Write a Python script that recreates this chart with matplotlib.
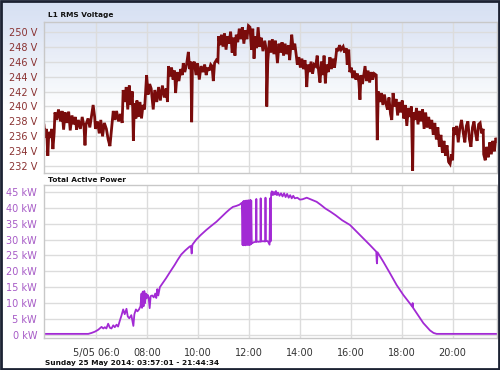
import numpy as np
import matplotlib
matplotlib.use("Agg")
import matplotlib.pyplot as plt
from matplotlib.patches import Rectangle
from matplotlib.colors import LinearSegmentedColormap

# time axis is in hours of the day (25 May 2014)
t_start = 3.950   # 03:57:01
t_end = 21.743    # 21:44:34

# L1 RMS voltage
volt_hours = [
    3.95, 4.00, 4.05, 4.10, 4.14, 4.20, 4.25, 4.30, 4.35, 4.38, 4.45, 4.52, 4.60, 4.66,
    4.72, 4.78, 4.85, 4.92, 4.98, 5.05, 5.12, 5.18, 5.23, 5.30, 5.38, 5.45, 5.52, 5.56,
    5.60, 5.68, 5.75, 5.82, 5.88, 5.94, 5.97, 6.05, 6.12, 6.18, 6.25, 6.32, 6.40, 6.47,
    6.54, 6.60, 6.67, 6.74, 6.80, 6.88, 6.95, 7.02, 7.06, 7.12, 7.18, 7.24, 7.30, 7.36,
    7.42, 7.46, 7.50, 7.56, 7.60, 7.66, 7.72, 7.78, 7.84, 7.90, 7.98, 8.04, 8.10, 8.16,
    8.24, 8.30, 8.38, 8.45, 8.52, 8.60, 8.68, 8.75, 8.80, 8.84, 8.90, 8.96, 9.02, 9.08,
    9.12, 9.18, 9.25, 9.32, 9.38, 9.42, 9.48, 9.55, 9.62, 9.67, 9.72, 9.75, 9.78, 9.85,
    9.92, 9.98, 10.05, 10.12, 10.20, 10.26, 10.32, 10.38, 10.44, 10.50, 10.55, 10.60,
    10.65, 10.72, 10.78, 10.81, 10.86, 10.92, 10.98, 11.04, 11.10, 11.16, 11.22, 11.28,
    11.34, 11.40, 11.45, 11.50, 11.56, 11.62, 11.68, 11.74, 11.80, 11.86, 11.92, 11.98,
    12.04, 12.10, 12.15, 12.20, 12.25, 12.30, 12.36, 12.42, 12.48, 12.55, 12.62, 12.68,
    12.70, 12.74, 12.80, 12.86, 12.92, 12.98, 13.04, 13.12, 13.18, 13.24, 13.30, 13.36,
    13.42, 13.48, 13.55, 13.60, 13.68, 13.74, 13.80, 13.86, 13.90, 13.96, 14.02, 14.08,
    14.14, 14.20, 14.24, 14.27, 14.32, 14.38, 14.44, 14.50, 14.56, 14.62, 14.68, 14.74,
    14.79, 14.85, 14.91, 14.95, 15.00, 15.05, 15.12, 15.18, 15.24, 15.30, 15.36, 15.40,
    15.45, 15.50, 15.56, 15.62, 15.70, 15.76, 15.82, 15.86, 15.92, 15.96, 16.02, 16.08,
    16.14, 16.20, 16.26, 16.32, 16.36, 16.40, 16.46, 16.56, 16.62, 16.68, 16.74, 16.80,
    16.86, 16.92, 17.00, 17.04, 17.08, 17.14, 17.20, 17.26, 17.32, 17.38, 17.44, 17.50,
    17.56, 17.61, 17.66, 17.72, 17.78, 17.84, 17.90, 17.96, 18.02, 18.08, 18.14, 18.20,
    18.26, 18.32, 18.38, 18.43, 18.46, 18.52, 18.58, 18.64, 18.70, 18.76, 18.82, 18.88,
    18.94, 19.00, 19.06, 19.12, 19.18, 19.24, 19.30, 19.36, 19.42, 19.48, 19.54, 19.60,
    19.66, 19.72, 19.78, 19.84, 19.90, 19.96, 20.00, 20.04, 20.10, 20.16, 20.22, 20.28,
    20.35, 20.42, 20.48, 20.54, 20.60, 20.66, 20.72, 20.78, 20.84, 20.90, 20.96, 21.02,
    21.08, 21.14, 21.20, 21.22, 21.28, 21.34, 21.40, 21.46, 21.52, 21.58, 21.64, 21.70,
    21.74,
]
volt_values = [
    237.5, 235.8, 237.0, 233.4, 236.6, 235.8, 237.0, 234.3, 236.5, 239.2, 238.2, 239.6, 238.0, 239.4,
    236.9, 239.2, 237.8, 239.3, 236.8, 238.8, 237.6, 238.6, 236.9, 238.2, 237.0, 238.6, 237.4, 234.8,
    237.6, 238.4, 237.2, 238.8, 240.2, 238.6, 237.0, 238.0, 236.4, 238.2, 236.0, 237.8, 237.0, 235.6,
    234.7, 236.8, 239.4, 238.2, 239.4, 238.0, 239.0, 237.8, 242.2, 240.6, 242.6, 239.6, 242.8, 240.2,
    242.0, 235.4, 240.4, 238.4, 240.8, 238.6, 240.6, 238.4, 240.2, 239.6, 244.2, 241.6, 243.0, 242.4,
    239.6, 242.2, 240.6, 242.6, 240.8, 242.8, 241.2, 242.4, 240.6, 245.4, 244.0, 245.2, 243.6, 244.8,
    241.8, 244.6, 243.4, 245.0, 244.2, 245.8, 244.6, 245.6, 247.3, 245.0, 246.0, 237.9, 245.2, 246.0,
    244.2, 245.8, 243.6, 245.4, 244.6, 245.6, 244.2, 245.2, 244.8, 245.6, 245.4, 243.4,
    245.8, 246.2, 246.0, 249.4, 248.2, 249.6, 248.0, 249.8, 247.6, 249.4, 248.4, 250.0,
    247.2, 249.2, 246.8, 249.6, 248.6, 250.4, 249.0, 250.6, 248.4, 250.2, 249.0, 250.8,
    250.6, 247.6, 250.4, 246.4, 249.4, 247.8, 250.6, 248.0, 249.2, 247.4, 248.8, 247.6,
    240.0, 246.0, 248.8, 247.2, 249.0, 247.0, 248.8, 245.8, 248.4, 247.2, 248.6, 246.8,
    248.4, 247.0, 248.2, 246.2, 249.6, 247.6, 248.4, 246.8, 245.6, 246.6, 245.2, 246.4,
    245.0, 246.2, 244.8, 242.6, 245.6, 244.6, 246.0, 244.4, 245.6, 245.4, 246.8, 244.6,
    243.2, 246.0, 244.2, 246.8, 243.1, 245.6, 244.6, 246.6, 245.0, 246.4, 245.2, 246.2,
    247.8, 247.4, 248.2, 247.6, 248.0, 247.2, 247.8, 245.6, 247.6, 244.6, 245.2, 243.8,
    244.8, 243.6, 244.4, 243.2, 240.9, 244.2, 243.0, 245.4, 243.4, 244.8, 243.2, 244.6,
    243.6, 244.4, 244.2, 235.5, 242.0, 240.6, 241.8, 240.2, 241.6, 240.4, 239.6, 241.2,
    239.0, 238.2, 241.8, 240.0, 241.0, 238.8, 240.6, 239.2, 240.8, 238.4, 240.2, 237.4,
    239.8, 238.6, 240.0, 231.4, 239.2, 238.2, 239.8, 237.6, 239.4, 238.0, 239.6, 237.0,
    239.2, 237.2, 238.6, 237.0, 238.2, 236.2, 237.8, 235.6, 237.2, 234.6, 236.2, 233.8,
    235.4, 233.4, 234.8, 232.6, 232.3, 233.6, 232.8, 237.2, 236.2, 237.4, 235.2, 237.0,
    238.2, 236.4, 235.2, 237.4, 238.0, 235.6, 234.6, 237.2, 238.0, 236.4, 235.4, 237.6,
    237.8, 236.4, 237.0, 233.6, 232.8, 234.6, 233.2, 235.2, 233.6, 235.4, 234.0, 235.8,
    235.4,
]

# total active power (kW)
power_hours = [
    3.95, 5.69, 5.82, 5.95, 6.08, 6.21, 6.28, 6.34, 6.40, 6.47, 6.54, 6.60, 6.67, 6.73,
    6.80, 6.86, 6.93, 6.99, 7.06, 7.12, 7.19, 7.24, 7.30, 7.38, 7.46, 7.50, 7.56, 7.62,
    7.68, 7.74, 7.78, 7.80, 7.83, 7.86, 7.89, 7.92, 7.95, 7.98, 8.02, 8.06, 8.10, 8.14,
    8.20, 8.26, 8.32, 8.36, 8.40, 8.44, 8.50, 8.56, 8.65, 8.75, 8.90, 9.08, 9.20, 9.34,
    9.50, 9.67, 9.72, 9.75, 9.78, 9.93, 10.10, 10.32, 10.50, 10.72, 10.90, 11.11, 11.25,
    11.37, 11.50, 11.63, 11.72,
    11.75, 11.77, 11.79, 11.81, 11.83, 11.85, 11.87, 11.89, 11.91, 11.93, 11.95, 11.97,
    11.99, 12.01, 12.03, 12.05, 12.07, 12.09, 12.11,
    12.15, 12.20, 12.28, 12.29, 12.30, 12.37, 12.45, 12.46, 12.47, 12.55, 12.64, 12.65,
    12.66, 12.74, 12.81, 12.83, 12.84, 12.86,
    12.87, 12.90, 12.94, 12.98, 13.02, 13.06, 13.10, 13.14, 13.20, 13.26, 13.32, 13.38,
    13.44, 13.50, 13.56, 13.62, 13.68, 13.74, 13.80, 13.90, 14.00, 14.10, 14.27, 14.45,
    14.66, 14.83, 15.00, 15.20, 15.40, 15.66, 15.97, 16.23, 16.49, 16.75, 17.00, 17.02,
    17.03, 17.05, 17.28, 17.54, 17.80, 18.06, 18.32, 18.42, 18.43, 18.44, 18.59, 18.85,
    19.11, 19.25, 19.37, 21.74,
]
power_kw = [
    0.3, 0.3, 0.6, 1.0, 1.6, 2.5, 2.0, 2.4, 2.0, 3.5, 2.2, 2.0, 3.0, 2.4,
    3.2, 2.6, 4.5, 6.0, 8.0, 6.5, 8.2, 5.8, 5.2, 6.2, 2.8, 6.5, 8.0, 7.4,
    8.0, 9.0, 13.0, 8.5, 13.6, 9.0, 13.8, 10.0, 13.0, 11.5, 12.6, 11.8, 8.4, 12.2,
    12.4, 11.8, 13.0, 11.6, 14.4, 12.4, 15.0, 15.7, 16.8, 17.9, 19.8, 22.0, 23.6, 25.3,
    26.6, 27.8, 28.0, 25.6, 28.4, 30.0, 31.4, 33.0, 34.2, 35.6, 37.0, 38.6, 39.6,
    40.3, 40.6, 41.0, 41.6,
    28.3, 42.0, 28.2, 42.2, 28.4, 41.8, 28.2, 42.3, 28.5, 42.0, 28.3, 42.4,
    28.4, 42.2, 28.3, 42.5, 28.5, 42.3, 28.8,
    29.0, 29.2, 29.3, 42.8, 29.4, 29.3, 29.4, 43.0, 29.4, 29.5, 29.4, 43.2,
    29.6, 29.5, 28.4, 43.0, 29.4, 29.6,
    44.6, 45.2, 44.0, 45.0, 44.2, 45.3, 44.0, 44.8, 43.8, 44.6, 43.6, 44.6,
    43.4, 44.4, 43.2, 44.0, 43.0, 43.8, 43.0, 43.2, 42.6, 42.7, 43.2, 42.6,
    41.9, 40.9, 39.8, 38.8, 37.7, 36.1, 34.6, 32.5, 30.4, 28.3, 26.2, 23.0,
    22.5, 26.0, 23.0, 19.4, 15.7, 12.6, 9.9, 8.8, 10.0, 8.6, 6.8, 3.7,
    1.4, 0.6, 0.3, 0.3,
]

time_ticks = [6, 8, 10, 12, 14, 16, 18, 20]
time_labels = ["5/05 06:0", "08:00", "10:00", "12:00", "14:00", "16:00", "18:00", "20:00"]
volt_ticks = [232, 234, 236, 238, 240, 242, 244, 246, 248, 250]
power_ticks = [0, 5, 10, 15, 20, 25, 30, 35, 40, 45]

W, H = 500, 370
fig = plt.figure(figsize=(W / 100, H / 100), dpi=100)

# light blue gradient at the top of the figure, white from about a third down
bg = fig.add_axes([0, 0, 1, 1], zorder=-5)
grad = np.linspace(0, 1, 370).reshape(-1, 1)
cmap = LinearSegmentedColormap.from_list(
    "bg", [(0.0, "#d6e0f3"), (0.08, "#dfe6f5"), (0.18, "#eef2f9"), (0.30, "#ffffff"), (1.0, "#ffffff")])
bg.imshow(grad, aspect="auto", cmap=cmap, extent=[0, 1, 0, 1], origin="upper")
bg.set_axis_off()


def px_axes(left, top, right, bottom):
    return fig.add_axes([left / W, 1 - bottom / H, (right - left) / W, (bottom - top) / H])


grid_c = "#dcdcdc"
edge_c = "#c8c8c8"

ax1 = px_axes(44, 22, 497, 173)
ax1.set_facecolor("none")
ax1.plot(volt_hours, volt_values, color="#7a0c0c", lw=2.0, solid_joinstyle="miter")
ax1.set_xlim(t_start, t_end)
ax1.set_ylim(231.1, 251.3)
ax1.set_yticks(volt_ticks)
ax1.set_yticklabels([f"{v} V" for v in volt_ticks])
ax1.set_xticks(time_ticks)
ax1.set_xticklabels([])

ax2 = px_axes(44, 185, 497, 338)
ax2.set_facecolor("white")
ax2.plot(power_hours, power_kw, color="#a22ad4", lw=1.3)
ax2.set_xlim(t_start, t_end)
ax2.set_ylim(-1.0, 47.2)
ax2.set_yticks(power_ticks)
ax2.set_yticklabels([f"{v} kW" for v in power_ticks])
ax2.set_xticks(time_ticks)
ax2.set_xticklabels(time_labels)

for ax, lab_c in ((ax1, "#8a3232"), (ax2, "#a65ac6")):
    ax.grid(True, color=grid_c, lw=1)
    ax.set_axisbelow(True)
    for s in ax.spines.values():
        s.set_color(edge_c)
        s.set_linewidth(1)
    ax.tick_params(axis="y", length=0, pad=5, labelsize=7, labelcolor=lab_c)
    ax.tick_params(axis="x", length=0, pad=7, labelsize=7, labelcolor="#333333")

fig.text(48 / W, 1 - 15 / H, "L1 RMS Voltage", fontsize=5.3, fontweight="bold",
         va="center", ha="left", color="#111111")
fig.text(48 / W, 1 - 180 / H, "Total Active Power", fontsize=5.3, fontweight="bold",
         va="center", ha="left", color="#111111")
fig.text(45 / W, 1 - 363 / H, "Sunday 25 May 2014: 03:57:01 - 21:44:34", fontsize=5.3,
         fontweight="bold", va="center", ha="left", color="#111111")

# dark frame round the picture
fig.patches.append(Rectangle((0.001, 0.002), 0.997, 0.996, transform=fig.transFigure,
                             fill=False, edgecolor="#1c2233", lw=2))

fig.savefig("out.png", dpi=100)
